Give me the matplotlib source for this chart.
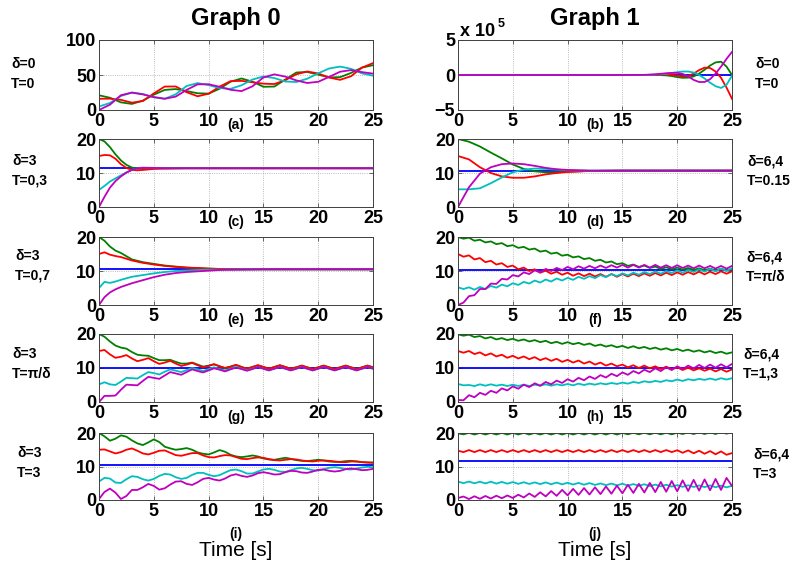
import numpy as np
import matplotlib.pyplot as plt

plt.rcParams['font.family'] = ['Liberation Sans', 'DejaVu Sans']

# ---- data ----
# (a) delta=0, T=0, one sample per second
A_T = list(range(26))
A_GREEN = [21, 17.5, 10.9, 8.7, 13.4, 21.9, 28.7, 29.9, 27.0, 23.9, 23.4, 30.4, 40.4, 45.0, 40.5, 33.2,
           33.5, 43.5, 53.5, 54.4, 50.5, 46.6, 46.9, 53.0, 60.6, 64.0]
A_RED = [16, 16.2, 14.5, 10.5, 12.8, 23.7, 33.5, 33.6, 25.4, 19.6, 23.3, 33.4, 41.2, 41.6, 39.7, 37.6,
         37.1, 42.6, 51, 55, 52.2, 46.4, 43.1, 48.3, 60.6, 67]
A_CYAN = [5, 10, 20, 25, 22.8, 18.3, 16, 22.4, 34.3, 38.4, 35.6, 31.4, 30.2, 35.3, 43.5, 47.9,
          45.6, 40.7, 40, 44.7, 52.4, 59.3, 62, 58.8, 52.3, 49]
A_MAG = [0, 7.6, 21.1, 24.8, 22.3, 18.4, 16.1, 19.1, 28.8, 36.7, 36.8, 33.2, 28.9, 27, 33.8, 46.5,
         50.9, 47.7, 42.3, 38.6, 40.3, 47.3, 54.7, 57, 54.1, 52]

# (b) delta=0, T=0, values in units of 1e5
B_T = [0, 5, 10, 15, 17, 18, 19, 19.5, 20, 20.5, 21, 21.5, 22, 22.5, 23, 23.5, 24, 24.5, 25]
B_GREEN = [0, 0, 0, 0, 0, 0.02, -0.05, -0.15, -0.3, -0.4, -0.38, -0.2, 0.2, 0.75, 1.35, 1.8, 1.9, 1.2, 0.0]
B_RED = [0, 0, 0, 0, 0, 0.02, 0.05, 0.0, -0.1, -0.2, -0.15, 0.2, 0.7, 1.05, 1.0, 0.5, -0.4, -1.8, -3.4]
B_CYAN = [0, 0, 0, 0, 0, 0.05, 0.15, 0.3, 0.4, 0.5, 0.5, 0.35, 0.0, -0.5, -1.1, -1.6, -1.85, -1.4, -0.1]
B_MAG = [0, 0, 0, 0, 0.02, 0.1, 0.25, 0.3, 0.3, 0.15, -0.2, -0.7, -1.0, -1.0, -0.6, 0.2, 1.2, 2.3, 3.3]

# (c) delta=3, T=0,3
C_T = [0, 0.5, 1, 1.5, 2, 2.5, 3, 3.5, 4, 5, 6, 8, 25]
C_GREEN = [20, 19.3, 17.6, 15.5, 13.7, 12.4, 11.6, 11.3, 11.3, 11.4, 11.4, 11.4, 11.4]
C_RED = [15, 15.3, 15.2, 14.2, 12.6, 11.5, 10.9, 10.8, 10.9, 11.2, 11.3, 11.4, 11.4]
C_CYAN = [5, 6.2, 7.5, 8.4, 9.3, 10.2, 10.9, 11.4, 11.6, 11.5, 11.4, 11.4, 11.4]
C_MAG = [0, 3, 5.7, 7.6, 9, 10.1, 10.9, 11.4, 11.5, 11.5, 11.4, 11.4, 11.4]

# (d) delta=6,4, T=0.15
D_T = [0, 1, 2, 3, 4, 5, 6, 7, 8, 9, 10, 12, 15, 25]
D_GREEN = [20, 19.2, 17.8, 16.0, 14.3, 12.5, 11.2, 10.5, 10.2, 10.2, 10.4, 10.6, 10.7, 10.7]
D_RED = [15, 14.0, 11.7, 10.0, 9.0, 8.6, 8.6, 9.0, 9.6, 10.0, 10.3, 10.6, 10.7, 10.7]
D_CYAN = [5.2, 5.2, 5.5, 7.0, 8.7, 10.2, 11.0, 11.3, 11.2, 11.0, 10.8, 10.7, 10.7, 10.7]
D_MAG = [0, 5.8, 9.8, 11.7, 12.6, 12.8, 12.6, 12.1, 11.5, 11.1, 10.9, 10.7, 10.7, 10.7]

# (e) delta=3, T=0,7
E_T = [0, 0.5, 1, 1.5, 2, 3, 4, 5, 6, 7, 8, 9, 10, 11, 13, 15, 25]
E_GREEN = [20, 18.9, 17.2, 16.0, 15.3, 13.4, 12.6, 12.1, 11.6, 11.3, 11.0, 10.8, 10.7, 10.6, 10.5, 10.5, 10.5]
E_RED = [15, 15.5, 14.8, 14.4, 14.1, 13.1, 12.4, 11.9, 11.5, 11.2, 11.0, 10.9, 10.7, 10.6, 10.5, 10.5, 10.5]
E_CYAN = [5, 6.8, 6.5, 6.9, 7.4, 8.3, 8.8, 9.3, 9.7, 10.0, 10.1, 10.3, 10.4, 10.4, 10.5, 10.5, 10.5]
E_MAG = [0, 2.3, 3.7, 4.6, 5.3, 6.4, 7.3, 8.2, 8.9, 9.4, 9.7, 9.9, 10.1, 10.3, 10.4, 10.5, 10.5]

# (f)-(j): one sample every half second from 0 to 25 s
F_GREEN = [20.0, 19.5, 19.8, 18.9, 19.2, 18.4, 18.7, 17.9, 18.2, 17.3, 17.6, 16.8, 17.1, 16.3, 16.6, 15.7,
           16.0, 15.1, 15.4, 14.5, 14.8, 14.0, 14.3, 13.5, 13.8, 13.0, 13.3, 12.5, 12.8, 12.0, 12.3, 11.5,
           11.9, 11.2, 11.6, 10.9, 11.3, 10.6, 11.1, 10.5, 11.0, 10.4, 10.9, 10.3, 10.8, 10.2, 10.7, 10.1,
           10.7, 10.1, 10.6]
F_RED = [15.0, 14.2, 14.6, 13.4, 13.8, 12.6, 13.0, 11.9, 12.3, 11.2, 11.6, 10.5, 11.0, 10.0, 10.5, 9.5,
         10.1, 9.2, 9.8, 8.9, 9.5, 8.6, 9.3, 8.5, 9.2, 8.4, 9.1, 8.3, 9.1, 8.3, 9.1, 8.4, 9.2, 8.5, 9.3,
         8.6, 9.4, 8.7, 9.5, 8.8, 9.6, 8.9, 9.7, 9.0, 9.8, 9.0, 9.8, 9.1, 9.9, 9.2, 9.9]
F_CYAN = [5.2, 4.7, 5.2, 4.5, 5.3, 4.7, 5.6, 5.1, 6.0, 5.5, 6.4, 5.9, 6.8, 6.3, 7.2, 6.6, 7.5, 6.9, 7.8,
          7.2, 8.0, 7.4, 8.3, 7.7, 8.5, 7.9, 8.8, 8.2, 9.1, 8.5, 9.3, 8.7, 9.5, 8.9, 9.7, 9.1, 9.9, 9.2,
          10.0, 9.4, 10.2, 9.5, 10.3, 9.7, 10.5, 9.8, 10.6, 9.9, 10.7, 10.0, 10.8]
F_MAG = [0.0, 0.7, 2.6, 2.9, 4.7, 4.7, 6.3, 6.2, 7.7, 7.5, 8.8, 8.4, 9.6, 9.1, 10.2, 9.6, 10.6, 10.0,
         10.9, 10.3, 11.2, 10.5, 11.4, 10.7, 11.5, 10.8, 11.6, 10.9, 11.7, 11.0, 11.8, 11.0, 11.8, 11.0,
         11.8, 11.0, 11.8, 11.0, 11.7, 10.9, 11.7, 10.9, 11.6, 10.8, 11.6, 10.8, 11.5, 10.7, 11.5, 10.7, 11.5]

G_GREEN = [20.0, 19.2, 17.8, 16.6, 16.0, 15.7, 14.7, 13.9, 13.7, 13.6, 12.9, 12.3, 12.3, 12.4, 11.8, 11.3,
           11.3, 11.6, 11.0, 10.4, 10.7, 11.1, 10.5, 10.0, 10.4, 10.9, 10.3, 9.8, 10.3, 10.8, 10.3, 9.8,
           10.3, 10.8, 10.3, 9.8, 10.2, 10.7, 10.2, 9.7, 10.2, 10.7, 10.2, 9.7, 10.2, 10.7, 10.2, 9.7,
           10.2, 10.7, 10.2]
G_RED = [15.0, 15.3, 14.0, 13.0, 13.3, 13.8, 12.8, 12.0, 12.4, 12.9, 12.0, 11.2, 11.6, 12.1, 11.3, 10.6,
         11.0, 11.5, 10.8, 10.2, 10.6, 11.1, 10.5, 10.0, 10.4, 10.9, 10.3, 9.8, 10.3, 10.8, 10.3, 9.8,
         10.3, 10.8, 10.3, 9.8, 10.2, 10.7, 10.2, 9.7, 10.2, 10.7, 10.2, 9.7, 10.2, 10.7, 10.2, 9.7,
         10.2, 10.7, 10.2]
G_CYAN = [5.2, 5.8, 5.2, 5.0, 6.0, 7.1, 7.0, 6.9, 7.9, 8.8, 8.5, 8.1, 8.9, 9.6, 9.2, 8.8, 9.4, 10.0,
          9.6, 9.1, 9.7, 10.2, 9.7, 9.3, 9.8, 10.3, 9.8, 9.3, 9.8, 10.3, 9.8, 9.3, 9.8, 10.3, 9.8, 9.3,
          9.8, 10.3, 9.8, 9.3, 9.8, 10.3, 9.8, 9.3, 9.8, 10.3, 9.8, 9.3, 9.8, 10.3, 9.8]
G_MAG = [0.0, 1.8, 1.8, 1.9, 3.6, 5.1, 5.0, 4.9, 6.2, 7.4, 7.1, 6.8, 7.8, 8.8, 8.4, 8.0, 8.8, 9.6,
         9.1, 8.7, 9.3, 9.9, 9.5, 9.0, 9.6, 10.1, 9.7, 9.2, 9.7, 10.3, 9.8, 9.3, 9.8, 10.3, 9.8, 9.3,
         9.8, 10.3, 9.8, 9.3, 9.8, 10.3, 9.8, 9.3, 9.8, 10.3, 9.8, 9.3, 9.8, 10.3, 9.8]

H_GREEN = [19.9, 19.5, 19.8, 19.1, 19.4, 18.7, 19.1, 18.4, 18.8, 18.2, 18.6, 18.0, 18.4, 17.8, 18.2, 17.6,
           18.0, 17.3, 17.7, 17.1, 17.6, 17.0, 17.4, 16.8, 17.2, 16.5, 16.9, 16.3, 16.7, 16.1, 16.5, 15.9,
           16.4, 15.8, 16.2, 15.6, 16.0, 15.4, 15.8, 15.2, 15.6, 15.0, 15.4, 14.8, 15.2, 14.6, 15.0, 14.4,
           14.8, 14.2, 14.6]
H_RED = [15.0, 14.5, 15.0, 14.1, 14.6, 13.7, 14.3, 13.4, 13.9, 13.0, 13.6, 12.8, 13.4, 12.6, 13.2, 12.3,
         12.9, 12.1, 12.7, 11.8, 12.4, 11.6, 12.2, 11.3, 11.9, 11.0, 11.6, 10.7, 11.3, 10.5, 11.0, 10.2,
         10.8, 10.0, 10.7, 9.9, 10.5, 9.7, 10.4, 9.6, 10.2, 9.4, 10.1, 9.3, 9.9, 9.2, 9.8, 9.0, 9.7, 8.9, 9.6]
H_CYAN = [5.3, 4.9, 5.0, 4.7, 5.2, 4.8, 5.2, 4.8, 5.1, 4.7, 5.1, 4.7, 5.1, 4.7, 5.1, 4.8, 5.2, 4.8,
          5.2, 4.9, 5.3, 4.9, 5.4, 5.0, 5.4, 5.1, 5.5, 5.2, 5.6, 5.3, 5.7, 5.4, 5.9, 5.6, 6.1, 5.8, 6.2,
          5.9, 6.4, 6.1, 6.6, 6.2, 6.7, 6.4, 6.8, 6.5, 6.9, 6.5, 7.0, 6.6, 7.0]
H_MAG = [0.6, 0.5, 2.0, 1.4, 2.7, 2.1, 3.3, 2.7, 4.0, 3.4, 4.6, 3.9, 5.1, 4.4, 5.5, 4.8, 5.9, 5.2, 6.3,
         5.6, 6.7, 6.0, 7.1, 6.4, 7.5, 6.8, 7.9, 7.2, 8.3, 7.6, 8.7, 8.0, 9.1, 8.4, 9.5, 8.8, 9.9, 9.1,
         10.2, 9.4, 10.5, 9.7, 10.7, 9.9, 10.9, 10.0, 11.0, 10.1, 11.1, 10.2, 11.2]

I_GREEN = [20.0, 19.0, 17.7, 18.3, 19.3, 18.9, 17.8, 16.9, 16.4, 17.2, 18.1, 17.3, 15.9, 15.4, 15.0, 15.2,
           15.5, 15.0, 14.2, 13.8, 13.6, 14.2, 14.9, 14.4, 13.5, 13.0, 12.8, 13.0, 13.3, 13.0, 12.4, 12.1,
           12.0, 12.3, 12.6, 12.3, 11.9, 11.7, 11.6, 11.8, 12.0, 11.8, 11.5, 11.4, 11.4, 11.6, 11.7, 11.5,
           11.3, 11.2, 11.2]
I_RED = [15.0, 15.1, 14.5, 13.9, 14.3, 15.0, 15.4, 14.7, 13.9, 13.6, 14.1, 14.7, 14.8, 14.1, 13.4, 13.2,
         13.6, 14.0, 14.0, 13.3, 12.8, 12.7, 13.1, 13.4, 13.3, 12.8, 12.3, 12.2, 12.5, 12.7, 12.6, 12.2,
         11.9, 11.8, 12.0, 12.2, 12.1, 11.8, 11.6, 11.5, 11.7, 11.8, 11.7, 11.5, 11.3, 11.3, 11.5, 11.5,
         11.3, 11.2, 11.1]
I_CYAN = [5.5, 6.6, 6.4, 5.2, 5.1, 6.2, 7.1, 6.9, 6.2, 5.8, 6.3, 7.2, 7.8, 7.6, 6.8, 6.3, 6.6, 7.5,
          8.1, 8.1, 7.5, 7.1, 7.4, 8.2, 8.9, 9.1, 8.6, 7.9, 7.9, 8.5, 9.1, 9.3, 9.0, 8.5, 8.4, 8.9, 9.4,
          9.6, 9.3, 8.9, 8.8, 9.2, 9.6, 9.8, 9.6, 9.2, 9.1, 9.4, 9.7, 9.9, 9.8]
I_MAG = [0.3, 2.4, 3.4, 2.2, 0.3, 1.2, 3.0, 3.0, 3.8, 4.8, 4.2, 3.1, 3.5, 4.6, 5.5, 5.6, 4.8, 4.5, 5.3,
         6.3, 6.6, 6.1, 5.8, 6.4, 7.3, 7.7, 7.2, 6.9, 7.3, 8.0, 8.3, 8.0, 7.6, 7.7, 8.3, 8.7, 8.6, 8.2,
         8.1, 8.5, 9.0, 9.1, 8.7, 8.5, 8.7, 9.2, 9.4, 9.2, 8.9, 9.0, 9.3]

J_GREEN = [19.9, 19.6, 20.05, 19.55, 20.05, 19.55, 20.05, 19.55, 20.05, 19.55, 20.05, 19.55, 20.05, 19.55,
           20.05, 19.55, 20.05, 19.55, 20.05, 19.55, 20.05, 19.55, 20.05, 19.55, 20.05, 19.55, 20.05, 19.55,
           20.05, 19.55, 20.05, 19.6, 20.1, 19.6, 20.1, 19.6, 20.1, 19.6, 20.1, 19.6, 20.1, 19.7, 20.2,
           19.7, 20.2, 19.7, 20.2, 19.7, 20.3, 19.8, 20.3]
J_RED = [14.7, 14.3, 14.9, 14.3, 14.9, 14.3, 14.9, 14.3, 14.9, 14.3, 14.9, 14.3, 14.9, 14.3, 14.9, 14.3,
         14.9, 14.3, 14.9, 14.3, 14.9, 14.3, 14.9, 14.3, 14.9, 14.3, 14.9, 14.3, 14.9, 14.3, 14.9, 14.3,
         14.9, 14.3, 14.9, 14.3, 14.9, 14.3, 14.9, 14.3, 14.85, 14.1, 14.8, 13.95, 14.7, 13.8, 14.6, 13.65,
         14.5, 13.5, 14.0]
J_CYAN = [5.5, 5.03, 5.5, 4.99, 5.45, 4.95, 5.45, 4.9, 5.4, 4.87, 5.35, 4.83, 5.3, 4.79, 5.25, 4.75, 5.25,
          4.71, 5.2, 4.67, 5.15, 4.62, 5.1, 4.56, 5.05, 4.5, 4.95, 4.44, 4.9, 4.38, 4.85, 4.31, 4.75, 4.23,
          4.7, 4.15, 4.6, 4.07, 4.55, 3.99, 4.45, 3.93, 4.4, 3.89, 4.35, 3.85, 4.35, 3.81, 4.3, 3.77, 4.25]
J_MAG = [0.6, 1.04, 0.28, 1.12, 0.36, 1.2, 0.44, 1.28, 0.52, 1.36, 0.6, 1.58, 0.76, 1.94, 0.92, 2.3, 1.08,
         2.66, 1.24, 3.02, 1.4, 3.32, 1.52, 3.56, 1.64, 3.8, 1.76, 4.04, 1.88, 4.28, 2.0, 4.54, 2.12, 4.82,
         2.24, 5.1, 2.36, 5.38, 2.48, 5.66, 2.6, 5.87, 2.7, 6.01, 2.8, 6.15, 2.9, 6.29, 3.0, 6.6, 4.2]

# constant (blue) level of each panel, None where it is not drawn
BLUE_LEVEL = {'a': None, 'b': 0.0, 'c': 11.4, 'd': 10.7, 'e': 10.5,
              'f': 10.2, 'g': 10.0, 'h': 10.1, 'i': 10.35, 'j': 11.7}

LEFT_LABELS = ['δ=0\nT=0', 'δ=3\nT=0,3', 'δ=3\nT=0,7', 'δ=3\nT=π/δ', 'δ=3\nT=3']
RIGHT_LABELS = ['δ=0\nT=0', 'δ=6,4\nT=0.15', 'δ=6,4\nT=π/δ', 'δ=6,4\nT=1,3', 'δ=6,4\nT=3']

GREEN = (0.0, 0.5, 0.0)
RED = (1.0, 0.0, 0.0)
BLUE = (0.0, 0.0, 1.0)
CYAN = (0.0, 0.75, 0.75)
MAGENTA = (0.75, 0.0, 0.75)

W, H = 796, 568
fig = plt.figure(figsize=(W / 100, H / 100), dpi=100)

COL_X = [99, 458]
AX_W = 274
ROWS = [(40, 110), (139, 207), (237, 305), (334, 402), (433, 500)]


def fx(x):
    return x / W


def fy(y):
    return 1 - y / H


def half_grid(vals):
    return np.linspace(0, 25, len(vals))


panels = [
    ('a', 0, 0, A_T, A_GREEN, A_RED, A_CYAN, A_MAG),
    ('b', 1, 0, B_T, B_GREEN, B_RED, B_CYAN, B_MAG),
    ('c', 0, 1, C_T, C_GREEN, C_RED, C_CYAN, C_MAG),
    ('d', 1, 1, D_T, D_GREEN, D_RED, D_CYAN, D_MAG),
    ('e', 0, 2, E_T, E_GREEN, E_RED, E_CYAN, E_MAG),
    ('f', 1, 2, None, F_GREEN, F_RED, F_CYAN, F_MAG),
    ('g', 0, 3, None, G_GREEN, G_RED, G_CYAN, G_MAG),
    ('h', 1, 3, None, H_GREEN, H_RED, H_CYAN, H_MAG),
    ('i', 0, 4, None, I_GREEN, I_RED, I_CYAN, I_MAG),
    ('j', 1, 4, None, J_GREEN, J_RED, J_CYAN, J_MAG),
]

for letter, col, row, t, g, r, c, m in panels:
    top, bot = ROWS[row]
    ax = fig.add_axes([fx(COL_X[col]), fy(bot), AX_W / W, (bot - top) / H])
    lvl = BLUE_LEVEL[letter]
    if lvl is not None:
        ax.plot([0, 25], [lvl, lvl], color=BLUE, lw=1.3)
    for vals, colr in [(g, GREEN), (r, RED), (c, CYAN), (m, MAGENTA)]:
        tt = t if t is not None else half_grid(vals)
        ax.plot(tt, vals, color=colr, lw=1.3)

    ax.set_xlim(0, 25)
    ax.set_xticks(range(0, 26, 5))
    if letter == 'a':
        ax.set_ylim(0, 100)
        ax.set_yticks([0, 50, 100])
    elif letter == 'b':
        ax.set_ylim(-5, 5)
        ax.set_yticks([-5, 0, 5])
    else:
        ax.set_ylim(0, 20)
        ax.set_yticks([0, 10, 20])
    ax.tick_params(direction='in', top=True, right=True, length=3, width=0.6,
                   color='0.3', labelsize=13, pad=2)
    for lab in ax.get_xticklabels() + ax.get_yticklabels():
        lab.set_fontweight('bold')
    ax.grid(True, ls=':', lw=0.6, color='0.65')
    for s in ax.spines.values():
        s.set_linewidth(0.7)
        s.set_color('0.25')

    cx = COL_X[col] + AX_W / 2
    if row < 4:
        fig.text(fx(cx), fy(bot + 15), '(%s)' % letter, ha='center', va='center',
                 fontsize=10, fontweight='bold')
    else:
        fig.text(fx(cx), fy(534), '(%s)' % letter, ha='center', va='center',
                 fontsize=10, fontweight='bold')
        fig.text(fx(cx), fy(551), 'Time [s]', ha='center', va='center', fontsize=15)

# side labels
LEFT_X = [11, 12, 15, 12, 17]
LEFT_Y = [74, 171, 266, 364, 463]
RIGHT_X = [755, 747, 746, 743, 753]
RIGHT_Y = [74, 171, 267, 364, 464]
for i in range(5):
    fig.text(fx(LEFT_X[i]), fy(LEFT_Y[i]), LEFT_LABELS[i], ha='left', va='center',
             fontsize=10, fontweight='bold', linespacing=1.5)
    fig.text(fx(RIGHT_X[i]), fy(RIGHT_Y[i]), RIGHT_LABELS[i], ha='left', va='center',
             fontsize=10, fontweight='bold', linespacing=1.5)

fig.text(fx(236), fy(18), 'Graph 0', ha='center', va='center', fontsize=17, fontweight='bold')
fig.text(fx(595), fy(18), 'Graph 1', ha='center', va='center', fontsize=17, fontweight='bold')

# exponent of panel (b)
fig.text(fx(460), fy(32), 'x 10', ha='left', va='center', fontsize=13, fontweight='bold')
fig.text(fx(498), fy(24), '5', ha='left', va='center', fontsize=9, fontweight='bold')

fig.savefig('out.png', dpi=100)
